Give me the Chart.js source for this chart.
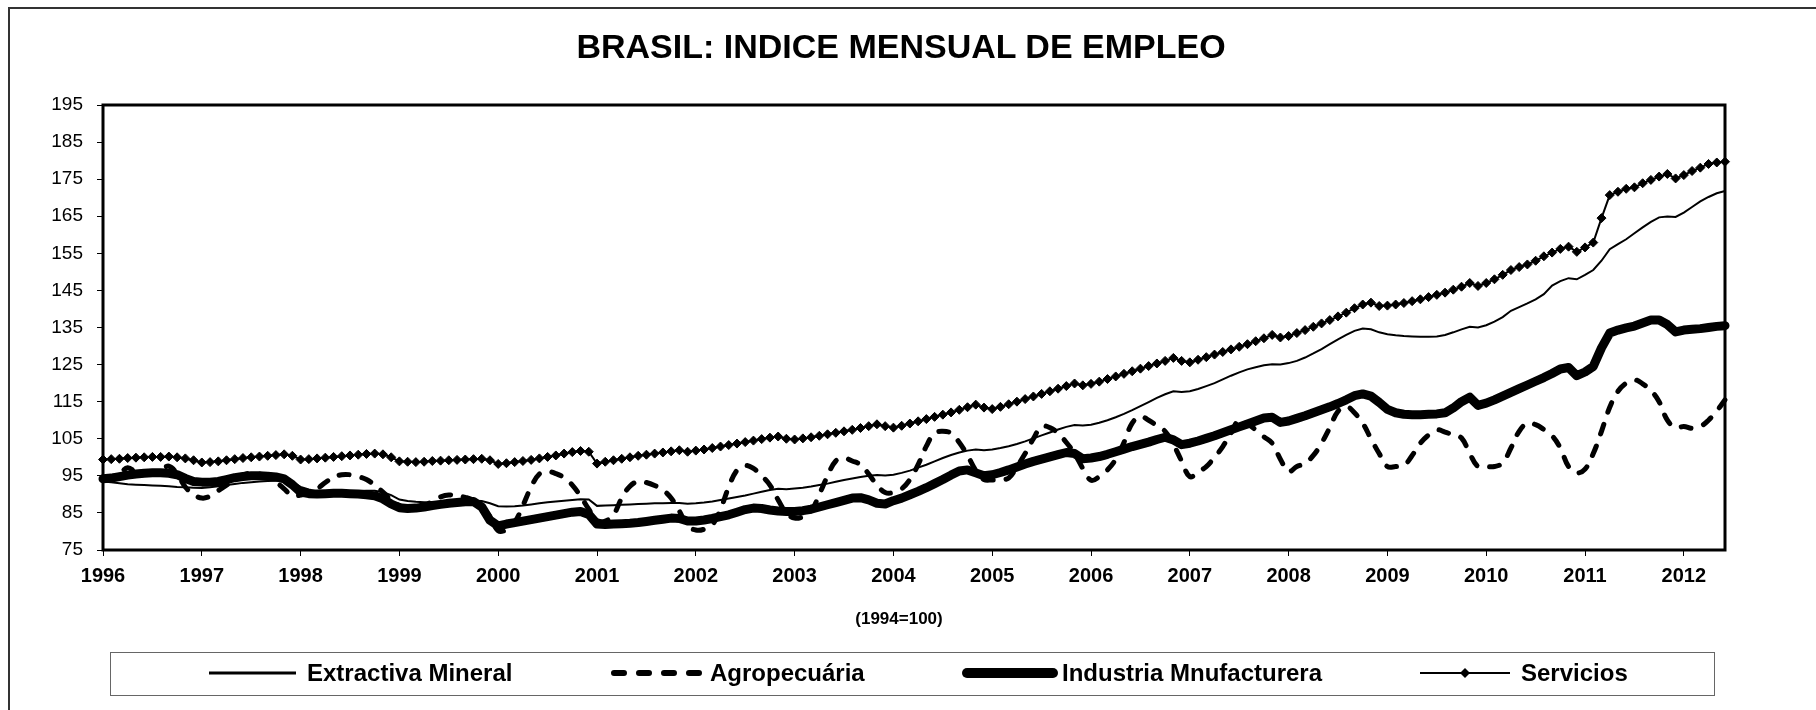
<!DOCTYPE html>
<html>
<head>
<meta charset="utf-8">
<script src="https://cdn.jsdelivr.net/npm/chart.js@4.4.1/dist/chart.umd.min.js"></script>
<style>
  body { margin: 0; background: #fff; overflow: hidden; font-family: "Liberation Sans", Arial, sans-serif; }
  #wrap { position: relative; width: 1816px; height: 710px; overflow: hidden; }
  #marcoExt { position: absolute; left: 8px; top: 7px; width: 1900px; height: 800px;
              border-left: 2px solid #333; border-top: 2px solid #333; }
  canvas { position: absolute; left: 0; top: 0; }
  #titulo { position: absolute; left: 0; width: 1802px; top: 26px; line-height: 40px;
            text-align: center; font-weight: bold; font-size: 34px; color: #000; }
  #base { position: absolute; left: 0; width: 1798px; top: 609px; line-height: 20px;
          text-align: center; font-weight: bold; font-size: 17px; color: #000; }
  #leyenda { position: absolute; left: 110px; top: 652px; width: 1605px; height: 44px;
             box-sizing: border-box; border: 1px solid #666; }
  .item { position: absolute; top: 659px; height: 28px; line-height: 28px;
          font-weight: bold; font-size: 24px; color: #000; white-space: nowrap; }
  .item svg { position: absolute; top: 0; }
</style>
</head>
<body>
<div id="wrap">
  <div id="marcoExt"></div>
  <canvas id="empleoChart" width="1816" height="710"></canvas>
  <div id="titulo">BRASIL: INDICE MENSUAL DE EMPLEO</div>
  <div id="base">(1994=100)</div>
  <div id="leyenda"></div>
  <div id="items"></div>
</div>
<script>
// =====================================
// DATOS (mensuales, ene-1996 a jun-2012)
// =====================================
const startYear = 1996;
const yearLabels = ["1996","1997","1998","1999","2000","2001","2002","2003","2004",
                    "2005","2006","2007","2008","2009","2010","2011","2012"];
const seriesNames = ["Extractiva Mineral", "Agropecuária", "Industria Mnufacturera", "Servicios"];

const extractiva = [
  93.5, 93.3, 93.0, 92.7, 92.6, 92.5, 92.4, 92.3, 92.2, 92.0, 91.9, 91.8,
  91.7, 91.9, 92.2, 92.5, 92.8, 93.1, 93.3, 93.5, 93.6, 93.7, 93.7, 93.2,
  92.0, 91.3, 90.8, 90.6, 90.6, 90.7, 90.8, 90.9, 91.0, 91.0, 90.6, 89.8,
  88.6, 88.2, 88.0, 87.9, 87.9, 88.0, 88.1, 88.2, 88.3, 88.3, 88.2, 87.6,
  86.8, 86.7, 86.8, 87.0, 87.3, 87.6, 87.9, 88.1, 88.3, 88.5, 88.7, 88.6,
  86.9, 87.0, 87.1, 87.2, 87.3, 87.4, 87.5, 87.6, 87.6, 87.7, 87.7, 87.5,
  87.6, 87.8, 88.1, 88.5, 88.9, 89.3, 89.7, 90.2, 90.7, 91.2, 91.5, 91.4,
  91.6, 91.8, 92.1, 92.5, 92.9, 93.4, 93.9, 94.3, 94.7, 95.0, 95.2, 95.1,
  95.3, 95.8, 96.4, 97.2, 98.0, 98.9, 99.8, 100.6, 101.3, 101.8, 102.1, 101.9,
  102.1, 102.5, 103.0, 103.6, 104.3, 105.1, 105.9, 106.7, 107.5, 108.2, 108.7, 108.6,
  108.8, 109.3, 110.0, 110.8, 111.7, 112.7, 113.8, 114.9, 116.0, 117.0, 117.8, 117.6,
  117.8, 118.4, 119.2, 120.0, 121.0, 122.0, 122.9, 123.7, 124.3, 124.8, 125.1, 125.0,
  125.4, 126.0, 126.9, 128.0, 129.2, 130.5, 131.8, 133.0, 134.1, 134.7, 134.5, 133.7,
  133.2, 132.9, 132.7, 132.6, 132.5, 132.5, 132.6, 133.0, 133.7, 134.5, 135.2, 135.0,
  135.6, 136.6, 137.8, 139.5, 140.5, 141.5, 142.6, 144.0, 146.3, 147.5, 148.3, 148.0,
  149.2, 150.5, 153.0, 156.1, 157.5, 158.8, 160.4, 162.0, 163.5, 164.7, 164.9, 164.8,
  166.0, 167.5, 169.0, 170.2, 171.2, 171.8
];

const agropecuaria = [
  94.5, 94.8, 95.6, 97.2, 96.0, 95.6, 95.8, 96.5, 97.6, 95.5, 92.0, 90.0,
  89.0, 89.5, 91.0, 92.5, 94.0, 95.2, 95.8, 95.5, 94.9, 93.4, 91.5, 89.6,
  89.8, 90.3, 91.5, 93.2, 94.6, 95.3, 95.3, 94.8, 94.0, 92.5, 90.6, 88.5,
  87.0, 86.3, 86.0, 86.8, 88.2, 89.3, 89.8, 89.6, 89.2, 88.4, 86.6, 84.0,
  80.2, 80.5, 82.5, 87.0, 92.0, 95.5, 96.2, 95.6, 94.5, 92.5, 89.5, 86.0,
  83.0, 82.8, 84.5, 89.0, 92.2, 93.5, 93.2, 92.4, 91.2, 89.0, 85.5, 81.5,
  80.4, 80.6, 81.8, 86.0, 92.0, 96.5, 97.8, 97.0, 95.0, 92.5, 88.5, 85.0,
  83.6, 84.0, 85.5, 90.0, 95.0, 99.0, 99.8, 99.0, 98.0, 95.5, 92.5, 90.5,
  90.5, 91.5, 94.0, 98.0, 103.0, 106.5, 107.0, 106.5, 104.0, 100.5, 96.5, 94.0,
  93.9, 94.0, 94.4, 97.5, 101.0, 105.0, 108.3, 108.0, 106.5, 104.0, 101.0, 97.0,
  93.8, 94.8, 96.6, 99.5, 104.0, 109.2, 111.0, 110.0, 108.5, 107.0, 103.5, 99.0,
  94.8, 96.0, 97.5, 100.0, 102.9, 106.5, 110.1, 109.0, 107.4, 105.5, 103.8, 99.5,
  96.2, 97.5, 98.4, 100.5, 103.8, 108.0, 112.4, 113.7, 112.0, 109.2, 105.0, 101.0,
  97.5, 97.5, 97.8, 100.5, 103.8, 106.0, 107.4, 106.8, 106.0, 105.2, 101.0, 97.5,
  97.5, 97.5, 98.5, 102.5, 107.0, 109.2, 108.8, 107.5, 105.8, 102.5, 97.5, 95.8,
  96.8, 101.0, 107.0, 113.5, 117.8, 120.0, 120.9, 119.8, 118.0, 115.0, 110.0, 108.0,
  108.3, 107.8, 108.3, 110.0, 112.5, 115.5
];

const industria = [
  94.2, 94.4, 94.8, 95.2, 95.5, 95.7, 95.8, 95.8, 95.7, 95.3, 94.3, 93.5,
  93.3, 93.3, 93.5, 94.0, 94.5, 94.8, 95.0, 95.0, 94.9, 94.7, 94.2, 92.6,
  90.6, 90.2, 90.1, 90.2, 90.3, 90.3, 90.2, 90.1, 89.9, 89.6, 88.8, 87.4,
  86.4, 86.2, 86.3, 86.6, 87.0, 87.3, 87.6, 87.8, 88.0, 88.1, 86.6, 83.0,
  81.5, 82.0, 82.4, 82.8, 83.2, 83.6, 84.0, 84.4, 84.8, 85.2, 85.4, 84.6,
  82.0, 81.9, 82.0, 82.1, 82.2, 82.4, 82.7, 83.0, 83.3, 83.6, 83.5, 82.8,
  82.8, 83.1, 83.5, 84.0, 84.5, 85.2, 85.9, 86.3, 86.2, 85.8, 85.5, 85.4,
  85.4, 85.6, 86.0, 86.6, 87.2, 87.8, 88.4, 89.0, 89.1, 88.5, 87.6, 87.4,
  88.3, 89.0, 89.9, 90.8, 91.8, 92.9, 94.0, 95.2, 96.3, 96.6, 95.8, 95.0,
  95.3, 95.9, 96.6, 97.4, 98.2, 98.9, 99.5, 100.1, 100.7, 101.3, 101.0, 99.6,
  99.8, 100.2, 100.8, 101.5, 102.2, 102.9, 103.5, 104.1, 104.8, 105.4, 104.7, 103.4,
  103.8, 104.4, 105.1, 105.8, 106.6, 107.4, 108.2, 109.0, 109.8, 110.6, 110.8, 109.4,
  109.8, 110.5, 111.2, 112.0, 112.8, 113.6, 114.5, 115.5, 116.6, 117.1, 116.5, 114.8,
  112.9, 112.0, 111.6, 111.5, 111.5, 111.6, 111.7, 112.0, 113.3, 115.0, 116.2, 114.0,
  114.6, 115.5, 116.5, 117.5, 118.5, 119.5, 120.5, 121.5, 122.6, 123.8, 124.2, 122.0,
  123.0, 124.5, 129.5, 133.5, 134.3, 134.9, 135.4, 136.2, 137.0, 137.0, 135.8, 133.8,
  134.3, 134.5, 134.7, 135.0, 135.3, 135.5
];

const servicios = [
  99.4, 99.5, 99.6, 99.8, 99.9, 100.0, 100.1, 100.1, 100.2, 100.0, 99.7, 99.2,
  98.6, 98.7, 98.9, 99.2, 99.5, 99.8, 100.0, 100.2, 100.4, 100.6, 100.8, 100.4,
  99.4, 99.5, 99.7, 99.9, 100.1, 100.3, 100.5, 100.7, 100.9, 101.0, 100.8, 100.0,
  98.9, 98.8, 98.7, 98.8, 99.0, 99.1, 99.2, 99.3, 99.4, 99.5, 99.6, 99.2,
  98.2, 98.4, 98.7, 99.0, 99.3, 99.7, 100.1, 100.5, 101.0, 101.4, 101.7, 101.5,
  98.3, 98.8, 99.2, 99.6, 100.0, 100.4, 100.7, 101.0, 101.3, 101.6, 101.9, 101.5,
  101.8, 102.1, 102.5, 102.9, 103.3, 103.7, 104.1, 104.5, 104.9, 105.3, 105.6, 105.0,
  104.8, 105.1, 105.4, 105.8, 106.2, 106.6, 107.0, 107.4, 107.9, 108.4, 108.9, 108.4,
  108.0, 108.5, 109.1, 109.7, 110.3, 110.9, 111.5, 112.1, 112.8, 113.5, 114.2, 113.4,
  113.0, 113.6, 114.3, 115.0, 115.7, 116.4, 117.1, 117.8, 118.5, 119.2, 119.9, 119.4,
  119.8, 120.4, 121.1, 121.8, 122.5, 123.2, 123.9, 124.6, 125.3, 126.0, 126.8, 126.0,
  125.6, 126.3, 127.0, 127.7, 128.4, 129.1, 129.8, 130.5, 131.3, 132.1, 133.0, 132.3,
  132.7, 133.5, 134.3, 135.2, 136.1, 137.0, 138.0, 139.0, 140.2, 141.2, 141.7, 140.8,
  140.9, 141.2, 141.6, 142.1, 142.6, 143.2, 143.8, 144.4, 145.2, 146.0, 147.0, 146.2,
  147.0, 148.0, 149.2, 150.5, 151.3, 152.0, 153.0, 154.2, 155.2, 156.2, 156.8, 155.4,
  156.6, 157.9, 164.5, 170.7, 171.6, 172.4, 172.8, 173.9, 174.8, 175.7, 176.4, 175.2,
  176.1, 177.2, 178.1, 179.1, 179.5, 179.7
];

// eje Y
const yMin = 75, yMax = 195, yStep = 10;

function puntos(arr) {
  return arr.map((v, i) => ({ x: i, y: v }));
}

// =====================================
// MARCO DEL AREA DE TRAZADO
// =====================================
const marcoPlot = {
  id: "marcoPlot",
  beforeDatasetsDraw(chart) {
    const { ctx, chartArea: a } = chart;
    ctx.save();
    ctx.strokeStyle = "#000";
    ctx.lineWidth = 3;
    ctx.strokeRect(a.left, a.top, a.right - a.left, a.bottom - a.top);
    ctx.restore();
  }
};

const fuente = "'Liberation Sans', Arial, sans-serif";
const ultimo = servicios.length - 1;

new Chart(document.getElementById("empleoChart"), {
  type: "line",
  data: {
    datasets: [
      {
        label: seriesNames[0], data: puntos(extractiva),
        borderColor: "#000", borderWidth: 2, pointRadius: 0, tension: 0, clip: false
      },
      {
        label: seriesNames[1], data: puntos(agropecuaria),
        borderColor: "#000", borderWidth: 5, borderDash: [10, 13], borderCapStyle: "round",
        borderJoinStyle: "round", pointRadius: 0, tension: 0.4, clip: false
      },
      {
        label: seriesNames[2], data: puntos(industria),
        borderColor: "#000", borderWidth: 9, borderCapStyle: "round", borderJoinStyle: "round",
        pointRadius: 0, tension: 0, clip: false
      },
      {
        label: seriesNames[3], data: puntos(servicios),
        borderColor: "#000", borderWidth: 2, pointStyle: "rectRot", pointRadius: 4.5,
        pointBackgroundColor: "#000", pointBorderColor: "#000", pointBorderWidth: 1,
        tension: 0, clip: false
      }
    ]
  },
  options: {
    responsive: false,
    animation: false,
    devicePixelRatio: 1,
    layout: { padding: { left: 0, top: 105, right: 91, bottom: 120 } },
    plugins: { legend: { display: false }, title: { display: false }, tooltip: { enabled: false } },
    scales: {
      x: {
        type: "linear",
        min: 0, max: ultimo,
        border: { display: false },
        grid: { drawOnChartArea: false, drawTicks: true, tickLength: 6, color: "#000", lineWidth: 1 },
        ticks: {
          stepSize: 12, includeBounds: false, autoSkip: false, maxRotation: 0,
          padding: 8, color: "#000",
          font: { family: fuente, size: 20, weight: "bold" },
          callback: v => (v % 12 === 0 ? yearLabels[v / 12] : "")
        },
        afterFit: s => { s.height = 40; s.paddingLeft = 0; s.paddingRight = 0; }
      },
      y: {
        min: yMin, max: yMax,
        border: { display: false },
        grid: { drawOnChartArea: false, drawTicks: true, tickLength: 6, color: "#000", lineWidth: 1 },
        ticks: {
          stepSize: yStep, padding: 14, color: "#000",
          font: { family: fuente, size: 19 }
        },
        afterFit: s => { s.width = 103; s.paddingTop = 0; s.paddingBottom = 0; }
      }
    }
  },
  plugins: [marcoPlot]
});

// =====================================
// LEYENDA
// =====================================
const muestras = [
  { left: 207, largo: 91, svg: '<line x1="2" y1="14" x2="89" y2="14" stroke="#000" stroke-width="3"/>' },
  { left: 610, largo: 99, svg: '<line x1="4" y1="14" x2="96" y2="14" stroke="#000" stroke-width="6" stroke-linecap="round" stroke-dasharray="10 15"/>' },
  { left: 962, largo: 96, svg: '<line x1="5" y1="14" x2="91" y2="14" stroke="#000" stroke-width="10" stroke-linecap="round"/>' },
  { left: 1418, largo: 94, svg: '<line x1="2" y1="14" x2="92" y2="14" stroke="#000" stroke-width="2"/><path d="M47 9 L52 14 L47 19 L42 14 Z" fill="#000"/>' }
];
const textoLeft = [307, 710, 1062, 1521];

const items = document.getElementById("items");
seriesNames.forEach((nombre, i) => {
  const m = muestras[i];
  const s = document.createElement("div");
  s.className = "item";
  s.style.left = m.left + "px";
  s.style.width = m.largo + "px";
  s.innerHTML = '<svg width="' + m.largo + '" height="28">' + m.svg + '</svg>';
  items.appendChild(s);

  const t = document.createElement("div");
  t.className = "item";
  t.style.left = textoLeft[i] + "px";
  t.textContent = nombre;
  items.appendChild(t);
});
</script>
</body>
</html>
